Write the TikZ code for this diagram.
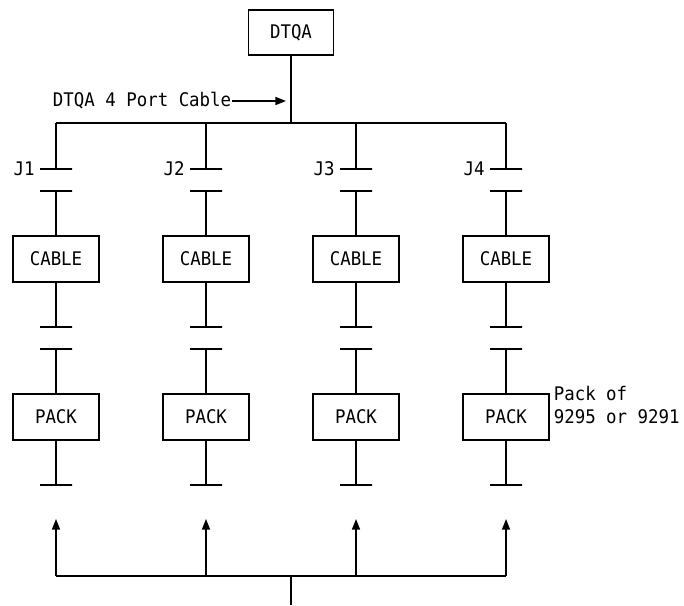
\documentclass[tikz,border=0pt]{standalone}
\usepackage{fontspec}
\setmonofont[FakeStretch=0.93]{DejaVu Sans Mono}
\usepackage{tikz}
\usetikzlibrary{arrows.meta,positioning}

\begin{document}
\begin{tikzpicture}[
  font=\ttfamily\fontsize{16}{19}\selectfont,
  line width=1.3pt,
  >={Triangle[length=3.2mm,width=2.4mm]},
  unit/.style ={draw, minimum width=25.8mm, minimum height=13.8mm, inner sep=0pt},
  jack/.style ={draw, minimum width=9.6mm, minimum height=0pt, inner sep=0pt, outer sep=0pt},
  wire/.style ={line width=1.3pt},
  feed/.style ={->, line width=1.3pt},
]
\useasboundingbox (0,0) rectangle (20.52,18.15);

% ======================= adapter and 4 port cable =======================
\node[unit, minimum width=25.5mm, minimum height=13.5mm] (dtqa) at (8.73, 17.175) {DTQA};
\coordinate (hub) at (8.73, 14.46);
\coordinate (b1)  at (1.68, 14.46);
\coordinate (b2)  at (6.18, 14.46);
\coordinate (b3)  at (10.68, 14.46);
\coordinate (b4)  at (15.18, 14.46);
\draw[wire] (dtqa) -- (hub);
\draw[wire] (b1) -- (b4);

\node[anchor=east, inner sep=0pt] (lbl) at (6.96, 15.12) {DTQA 4 Port Cable};
\coordinate (lbltip) at (8.58, 15.12);
\draw[feed] (lbl.east) -- (lbltip);

% ======================= column J1 =======================
\node[jack] (j1a) at (1.68, 13.08) {};
\node[jack] (j1b) at (1.68, 12.42) {};
\node[unit] (c1)  at (1.68, 10.38) {CABLE};
\node[jack] (j1c) at (1.68, 8.34) {};
\node[jack] (j1d) at (1.68, 7.68) {};
\node[unit] (p1)  at (1.68, 5.64)  {PACK};
\node[jack] (j1e) at (1.68, 3.60) {};
\node[left=4pt of j1a.west, inner sep=0pt] (n1) {J1};
\draw[wire] (b1) -- (j1a) (j1b) -- (c1) (c1) -- (j1c) (j1d) -- (p1) (p1) -- (j1e);

% ======================= column J2 =======================
\node[jack] (j2a) at (6.18, 13.08) {};
\node[jack] (j2b) at (6.18, 12.42) {};
\node[unit] (c2)  at (6.18, 10.38) {CABLE};
\node[jack] (j2c) at (6.18, 8.34) {};
\node[jack] (j2d) at (6.18, 7.68) {};
\node[unit] (p2)  at (6.18, 5.64)  {PACK};
\node[jack] (j2e) at (6.18, 3.60) {};
\node[left=4pt of j2a.west, inner sep=0pt] (n2) {J2};
\draw[wire] (b2) -- (j2a) (j2b) -- (c2) (c2) -- (j2c) (j2d) -- (p2) (p2) -- (j2e);

% ======================= column J3 =======================
\node[jack] (j3a) at (10.68, 13.08) {};
\node[jack] (j3b) at (10.68, 12.42) {};
\node[unit] (c3)  at (10.68, 10.38) {CABLE};
\node[jack] (j3c) at (10.68, 8.34) {};
\node[jack] (j3d) at (10.68, 7.68) {};
\node[unit] (p3)  at (10.68, 5.64)  {PACK};
\node[jack] (j3e) at (10.68, 3.60) {};
\node[left=4pt of j3a.west, inner sep=0pt] (n3) {J3};
\draw[wire] (b3) -- (j3a) (j3b) -- (c3) (c3) -- (j3c) (j3d) -- (p3) (p3) -- (j3e);

% ======================= column J4 =======================
\node[jack] (j4a) at (15.18, 13.08) {};
\node[jack] (j4b) at (15.18, 12.42) {};
\node[unit] (c4)  at (15.18, 10.38) {CABLE};
\node[jack] (j4c) at (15.18, 8.34) {};
\node[jack] (j4d) at (15.18, 7.68) {};
\node[unit] (p4)  at (15.18, 5.64)  {PACK};
\node[jack] (j4e) at (15.18, 3.60) {};
\node[left=4pt of j4a.west, inner sep=0pt] (n4) {J4};
\draw[wire] (b4) -- (j4a) (j4b) -- (c4) (c4) -- (j4c) (j4d) -- (p4) (p4) -- (j4e);

\node[anchor=west, align=left, inner sep=0pt] (note) at (16.59, 6.0) {Pack of\\9295 or 9291};

% ======================= bottom feed =======================
\coordinate (f1) at (1.68, 0.87);
\coordinate (f2) at (6.18, 0.87);
\coordinate (f3) at (10.68, 0.87);
\coordinate (f4) at (15.18, 0.87);
\coordinate (fs) at (8.73, 0.87);
\coordinate (fe) at (8.73, 0);
\coordinate (t1) at (1.68, 2.58);
\coordinate (t2) at (6.18, 2.58);
\coordinate (t3) at (10.68, 2.58);
\coordinate (t4) at (15.18, 2.58);
\draw[wire] (f1) -- (f4);
\draw[wire] (fs) -- (fe);
\draw[feed] (f1) -- (t1);
\draw[feed] (f2) -- (t2);
\draw[feed] (f3) -- (t3);
\draw[feed] (f4) -- (t4);
\end{tikzpicture}
\end{document}
